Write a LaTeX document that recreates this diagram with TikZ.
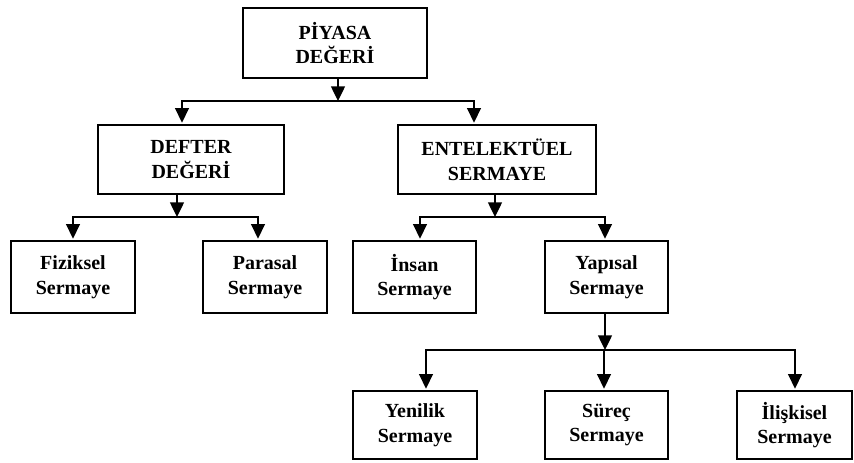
\documentclass[tikz,border=0pt]{standalone}
\usepackage{fontspec}
\setmainfont{Liberation Serif}
\usetikzlibrary{arrows.meta}
\begin{document}
\begin{tikzpicture}[x=0.75pt,y=-0.75pt,
  box/.style={draw, line width=1.5pt, align=center, inner sep=0pt,
    font=\fontsize{15pt}{18.5pt}\selectfont\bfseries},
  bx/.style 2 args={minimum width=#1*0.75pt, minimum height=#2*0.75pt},
  conn/.style={line width=1pt, line cap=rect},
  arr/.style={line width=1pt, -{Triangle[length=11pt,width=10.5pt]}, shorten >=1pt}]
\useasboundingbox (0,0) rectangle (854,462);
\fill[white] (0,0) rectangle (854,462);

% boxes
\node[box, bx={184}{70}] (top) at (335,43) {PİYASA\\DEĞERİ};
\node[box, bx={186}{69}] (defter) at (191,159.5) {DEFTER\\DEĞERİ};
\node[box, bx={198}{69}] (entel) at (497,159.5) {ENTELEKTÜEL\\SERMAYE};
\node[box, bx={124}{72}] (fiz) at (73,277) {Fiziksel\\Sermaye};
\node[box, bx={124}{72}] (par) at (265,277) {Parasal\\Sermaye};
\node[box, bx={123}{72}] (insan) at (414.5,277) {İnsan\\Sermaye};
\node[box, bx={123}{72}] (yap) at (606.5,277) {Yapısal\\Sermaye};
\node[box, bx={124}{68}] (yen) at (415,425) {Yenilik\\Sermaye};
\node[box, bx={123}{68}] (sur) at (606.5,425) {Süreç\\Sermaye};
\node[box, bx={115}{68}] (ilis) at (794.5,425) {İlişkisel\\Sermaye};

% junction points
\coordinate (j0) at (338,101);
\coordinate (j0L) at (182,101);
\coordinate (j0R) at (474,101);
\coordinate (j1) at (177,217);
\coordinate (j1L) at (73,217);
\coordinate (j1R) at (258,217);
\coordinate (j2) at (495,217);
\coordinate (j2L) at (420,217);
\coordinate (j2R) at (605,217);
\coordinate (j3) at (605,350);
\coordinate (j3L) at (426,350);
\coordinate (j3M) at (604,350);
\coordinate (j3R) at (795,350);

% level 1
\draw[arr, shorten >=0pt] (top.south -| j0) -- (j0);
\draw[conn] (j0L) -- (j0R);
\draw[arr] (j0L) -- (j0L |- defter.north);
\draw[arr] (j0R) -- (j0R |- entel.north);

% level 2 left
\draw[arr, shorten >=0pt] (defter.south -| j1) -- (j1);
\draw[conn] (j1L) -- (j1R);
\draw[arr] (j1L) -- (j1L |- fiz.north);
\draw[arr] (j1R) -- (j1R |- par.north);

% level 2 right
\draw[arr, shorten >=0pt] (entel.south -| j2) -- (j2);
\draw[conn] (j2L) -- (j2R);
\draw[arr] (j2L) -- (j2L |- insan.north);
\draw[arr] (j2R) -- (j2R |- yap.north);

% level 3
\draw[arr, shorten >=0pt] (yap.south -| j3) -- (j3);
\draw[conn] (j3L) -- (j3R);
\draw[arr] (j3L) -- (j3L |- yen.north);
\draw[arr] (j3M) -- (j3M |- sur.north);
\draw[arr] (j3R) -- (j3R |- ilis.north);
\end{tikzpicture}
\end{document}
